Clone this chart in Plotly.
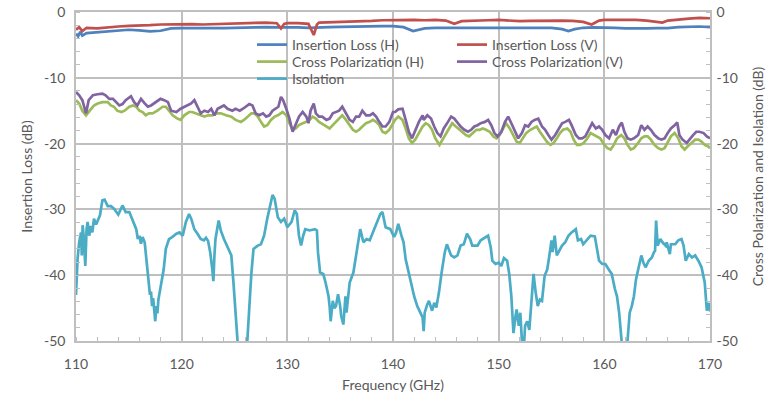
import plotly.graph_objects as go

# ---------------- data ----------------
il_h_freq = [110, 110.2, 110.4, 110.6, 111, 112, 113, 114, 115, 116, 117, 118, 119, 120, 121, 122, 123, 124,
             125, 126, 127, 128, 129, 130, 131, 132, 133, 134, 135, 136, 137, 138, 139, 140, 141, 141.9, 142.5,
             143, 144, 145, 146, 147, 148, 149, 150, 151, 152, 153, 154, 155, 156, 156.6, 157.2, 158, 159, 160,
             161, 162, 163, 164, 165, 166, 167, 168, 169, 170]
il_h = [-3.3, -3.7, -3.0, -3.6, -3.2, -3.1, -3.0, -2.85, -2.7, -2.8, -2.95, -2.85, -2.5, -2.45, -2.45, -2.55,
        -2.5, -2.45, -2.4, -2.35, -2.35, -2.3, -2.35, -2.3, -2.35, -2.4, -2.3, -2.3, -2.25, -2.2, -2.2, -2.2,
        -2.15, -2.15, -2.3, -2.9, -2.7, -2.5, -2.4, -2.4, -2.35, -2.3, -2.35, -2.35, -2.35, -2.35, -2.4, -2.4,
        -2.35, -2.4, -2.6, -2.9, -2.6, -2.4, -2.35, -2.35, -2.4, -2.5, -2.55, -2.5, -2.45, -2.45, -2.3, -2.2,
        -2.2, -2.3]

il_v_freq = [110, 110.3, 110.6, 111, 112, 113, 114, 115, 116, 117, 118, 119, 120, 121, 122, 123, 124, 125, 126,
             127, 128, 129, 129.4, 129.7, 130, 131, 132, 132.5, 132.8, 133, 134, 135, 136, 137, 138, 139, 140,
             141, 142, 143, 144, 145, 145.8, 146.5, 147, 148, 149, 150, 151, 152, 153, 154, 155, 156, 157, 158,
             158.8, 159.5, 160, 161, 162, 163, 164, 165, 165.5, 166, 167, 168, 169, 170]
il_v = [-2.7, -2.3, -2.9, -2.4, -2.5, -2.3, -2.2, -2.1, -2.1, -2.0, -1.9, -1.85, -1.8, -1.85, -1.9, -1.85, -1.8,
        -1.75, -1.7, -1.65, -1.6, -1.7, -2.5, -1.8, -1.7, -1.7, -1.8, -3.5, -1.9, -1.6, -1.55, -1.55, -1.5, -1.5,
        -1.35, -1.25, -1.2, -1.2, -1.2, -1.25, -1.2, -1.3, -1.8, -1.4, -1.35, -1.3, -1.25, -1.2, -1.3, -1.4,
        -1.35, -1.3, -1.35, -1.3, -1.35, -1.5, -1.9, -1.3, -1.2, -1.2, -1.15, -1.2, -1.3, -1.5, -1.6, -1.3, -1.1,
        -1.0, -0.9, -0.95]

xp_h_freq = [110.0, 110.3, 110.6, 110.95, 111.3, 111.7, 112.05, 112.5, 113.0, 113.3, 113.6, 113.9, 114.3, 114.6,
             115.05, 115.4, 115.7, 116.0, 116.3, 116.6, 116.9, 117.25, 117.7, 118.2, 118.5, 118.8, 119.15, 119.6,
             119.9, 120.25, 120.7, 121.0, 121.35, 121.8, 122.15, 122.5, 122.9, 123.25, 123.7, 124.2, 124.7, 125.1,
             125.6, 125.9, 126.25, 126.6, 126.9, 127.2, 127.5, 127.8, 128.1, 128.45, 128.8, 129.1, 129.55, 129.9,
             130.2, 130.5, 130.8, 131.1, 131.45, 131.8, 132.1, 132.4, 132.7, 133.0, 133.5, 134.0, 134.3, 134.6,
             134.9, 135.2, 135.55, 135.9, 136.2, 136.5, 136.8, 137.1, 137.45, 137.8, 138.1, 138.4, 138.7, 139.0,
             139.3, 139.65, 140.0, 140.2, 140.5, 140.9, 141.2, 141.5, 141.8, 142.1, 142.45, 142.8, 143.1, 143.4,
             143.7, 144.0, 144.4, 144.7, 145.0, 145.3, 145.6, 145.95, 146.3, 146.6, 146.9, 147.2, 147.55, 147.9,
             148.2, 148.5, 148.8, 149.15, 149.5, 149.8, 150.1, 150.4, 150.7, 151.05, 151.4, 151.7, 152.0, 152.3,
             152.6, 153.0, 153.3, 153.6, 153.9, 154.2, 154.55, 154.9, 155.2, 155.5, 155.8, 156.1, 156.5, 156.8,
             157.1, 157.4, 157.7, 158.05, 158.4, 158.7, 159.0, 159.3, 159.6, 160.0, 160.3, 160.6, 160.9, 161.2,
             161.6, 161.9, 162.2, 162.5, 162.8, 163.2, 163.5, 163.8, 164.1, 164.4, 164.75, 165.1, 165.4, 165.7,
             166.0, 166.3, 166.65, 167.0, 167.3, 167.6, 167.9, 168.25, 168.6, 168.9, 169.2, 169.5, 169.8, 170.0]
xp_h = [-13.4, -13.9, -15.0, -15.7, -15.0, -14.2, -13.9, -13.7, -13.7, -14.2, -14.4, -15.0, -15.2, -15.0,
        -14.4, -14.2, -14.4, -15.0, -15.2, -15.7, -15.4, -15.4, -15.0, -14.4, -14.4, -15.0, -15.7, -16.2,
        -16.4, -15.7, -15.2, -15.2, -15.4, -15.7, -15.9, -15.7, -15.7, -15.4, -15.4, -15.7, -15.9, -16.4,
        -16.7, -16.4, -15.9, -15.4, -15.4, -15.9, -16.7, -17.4, -17.2, -16.4, -15.9, -15.7, -15.2, -15.7,
        -16.9, -17.9, -17.7, -17.2, -16.9, -16.7, -16.4, -15.9, -16.2, -16.7, -17.2, -17.7, -17.2, -16.7,
        -16.2, -15.7, -16.4, -17.2, -17.9, -18.2, -17.9, -17.4, -16.9, -16.7, -16.4, -16.7, -17.2, -18.2,
        -18.4, -17.9, -16.9, -16.4, -15.9, -16.4, -17.7, -19.2, -19.9, -19.4, -18.4, -17.4, -16.9, -17.2,
        -17.9, -19.2, -20.2, -19.4, -18.4, -17.7, -16.9, -17.4, -17.9, -18.2, -18.7, -18.9, -18.4, -17.9,
        -17.9, -17.7, -17.9, -18.2, -18.9, -19.2, -18.7, -17.7, -16.9, -17.7, -18.7, -19.7, -19.9, -19.2,
        -18.4, -17.9, -17.7, -17.4, -18.2, -18.9, -19.7, -20.2, -19.9, -19.2, -18.4, -17.9, -17.7, -18.2,
        -19.4, -20.2, -20.2, -19.9, -19.2, -18.4, -18.7, -18.9, -19.2, -20.2, -20.7, -20.9, -20.2, -19.2,
        -18.7, -19.2, -20.2, -20.9, -20.7, -19.9, -19.2, -18.9, -18.9, -19.4, -20.2, -20.7, -20.9, -20.7,
        -19.9, -18.9, -18.4, -19.2, -20.4, -20.9, -20.4, -19.9, -19.4, -19.4, -19.7, -20.2, -20.4, -20.7]

xp_v_freq = [110.0, 110.3, 110.6, 110.95, 111.2, 111.6, 112.05, 112.5, 112.8, 113.15, 113.5, 113.8, 114.1, 114.4,
             114.7, 115.2, 115.5, 115.8, 116.15, 116.5, 116.8, 117.1, 117.6, 118.0, 118.35, 118.7, 119.0, 119.5,
             119.9, 120.25, 120.6, 120.9, 121.2, 121.5, 121.8, 122.15, 122.5, 122.8, 123.1, 123.4, 123.7, 124.0,
             124.35, 124.8, 125.1, 125.5, 125.8, 126.1, 126.4, 126.7, 127.0, 127.35, 127.7, 128.0, 128.3, 128.6,
             128.9, 129.15, 129.4, 129.6, 129.9, 130.2, 130.5, 130.8, 131.1, 131.45, 131.8, 132.0, 132.2, 132.5,
             132.7, 133.0, 133.3, 133.7, 134.0, 134.3, 134.6, 134.9, 135.2, 135.55, 135.9, 136.2, 136.5, 136.8,
             137.1, 137.45, 137.8, 138.1, 138.4, 138.7, 139.0, 139.3, 139.65, 140.0, 140.2, 140.5, 140.9, 141.2,
             141.5, 141.8, 142.1, 142.45, 142.8, 142.9, 143.25, 143.6, 143.9, 144.2, 144.5, 144.8, 145.2, 145.5,
             145.8, 146.1, 146.4, 146.75, 147.1, 147.4, 147.7, 148.0, 148.3, 148.7, 149.0, 149.3, 149.6, 149.9,
             150.25, 150.6, 150.9, 151.2, 151.5, 151.85, 152.2, 152.5, 152.8, 153.1, 153.4, 153.75, 154.1, 154.4,
             154.7, 155.0, 155.35, 155.7, 156.0, 156.3, 156.65, 156.9, 157.3, 157.6, 157.9, 158.2, 158.5, 158.85,
             159.2, 159.5, 159.8, 160.1, 160.45, 160.8, 161.1, 161.4, 161.65, 161.9, 162.2, 162.5, 162.8, 163.2,
             163.5, 163.8, 164.1, 164.4, 164.75, 165.1, 165.4, 165.7, 166.0, 166.3, 166.65, 166.9, 167.1, 167.4,
             167.8, 168.1, 168.4, 168.7, 169.0, 169.4, 169.7, 170.0]
xp_v = [-12.15, -12.65, -13.4, -15.4, -13.4, -12.65, -12.5, -12.4, -12.65, -13.2, -13.2, -13.7, -14.2, -14.0,
        -13.4, -12.8, -13.7, -14.2, -13.2, -13.9, -14.4, -14.2, -13.7, -13.2, -13.4, -13.7, -15.0, -15.2,
        -14.7, -14.4, -14.2, -13.9, -13.4, -14.4, -15.4, -15.0, -15.2, -14.7, -15.7, -14.7, -14.4, -14.2,
        -14.7, -15.0, -14.7, -15.0, -14.7, -14.4, -14.0, -14.2, -15.4, -15.7, -15.4, -15.9, -15.7, -15.0,
        -14.7, -14.4, -12.9, -13.4, -14.7, -16.2, -18.2, -16.9, -15.9, -15.2, -15.9, -16.9, -15.0, -13.9,
        -15.4, -15.9, -15.9, -16.4, -16.2, -15.4, -15.2, -15.0, -14.4, -15.4, -16.4, -16.7, -15.9, -15.9,
        -15.0, -15.7, -15.7, -15.4, -15.9, -16.7, -17.4, -17.4, -16.7, -15.2, -15.2, -14.8, -14.7, -16.4,
        -18.2, -19.2, -17.9, -16.7, -15.7, -16.4, -15.7, -16.2, -17.4, -18.4, -18.9, -17.7, -16.7, -15.9,
        -16.2, -16.9, -17.4, -17.9, -18.2, -17.9, -17.4, -17.2, -16.9, -16.7, -16.4, -17.2, -18.4, -18.9,
        -18.2, -16.7, -15.9, -16.9, -17.9, -19.2, -18.4, -17.2, -17.4, -16.7, -16.4, -16.2, -17.4, -17.9,
        -18.7, -19.4, -18.7, -17.7, -16.9, -16.7, -16.4, -17.2, -18.7, -19.2, -19.2, -18.9, -17.9, -16.9,
        -17.7, -17.4, -17.9, -18.7, -19.2, -17.9, -18.7, -17.4, -16.8, -18.2, -19.2, -19.4, -19.2, -18.7,
        -17.2, -17.9, -17.4, -17.9, -18.7, -19.2, -19.4, -19.2, -18.4, -17.7, -17.2, -16.8, -18.7, -19.4,
        -19.9, -19.2, -18.7, -18.2, -18.2, -18.4, -18.9, -19.2]

iso_freq = [110.0, 110.15, 110.3, 110.47, 110.55, 110.63, 110.75, 110.88, 111.0, 111.1, 111.25, 111.4, 111.55,
            111.7, 111.9, 112.05, 112.27, 112.5, 112.7, 113.0, 113.3, 113.6, 114.0, 114.4, 114.7, 115.05, 115.4,
            115.7, 115.85, 116.0, 116.15, 116.3, 116.5, 116.6, 116.8, 116.9, 117.0, 117.1, 117.2, 117.3, 117.4,
            117.5, 117.6, 117.7, 117.8, 117.9, 118.0, 118.3, 118.5, 118.8, 119.1, 119.5, 119.8, 120.1, 120.4,
            120.7, 120.9, 121.2, 121.5, 121.8, 122.1, 122.3, 122.5, 122.7, 122.9, 123.0, 123.1, 123.2, 123.5,
            123.7, 124.0, 124.35, 124.7, 124.9, 125.1, 125.3, 125.6, 125.9, 126.2, 126.4, 126.6, 126.8, 127.2,
            127.5, 127.8, 128.1, 128.4, 128.6, 128.8, 129.1, 129.4, 129.7, 130.0, 130.4, 130.7, 130.9, 131.1,
            131.3, 131.5, 131.7, 132.1, 132.6, 132.8, 132.9, 133.1, 133.4, 133.6, 133.7, 133.9, 134.0, 134.1,
            134.3, 134.45, 134.6, 134.8, 135.0, 135.1, 135.3, 135.5, 135.6, 135.9, 136.25, 136.6, 136.9, 137.2,
            137.5, 137.8, 138.2, 138.5, 138.8, 139.0, 139.3, 139.75, 140.1, 140.3, 140.5, 140.8, 141.0, 141.2,
            141.5, 141.7, 142.0, 142.3, 142.6, 142.8, 142.9, 143.0, 143.25, 143.4, 143.7, 143.9, 144.1, 144.35,
            144.6, 144.9, 145.1, 145.5, 145.8, 146.1, 146.4, 146.7, 147.0, 147.3, 147.5, 148.0, 148.3, 148.8,
            149.0, 149.25, 149.4, 149.7, 150.0, 150.25, 150.5, 150.8, 151.0, 151.2, 151.4, 151.6, 151.7, 151.9,
            152.05, 152.2, 152.4, 152.5, 152.7, 152.9, 153.1, 153.3, 153.5, 153.7, 153.9, 154.1, 154.35, 154.6,
            154.8, 155.0, 155.1, 155.3, 155.5, 155.7, 156.0, 156.3, 156.6, 156.9, 157.3, 157.5, 157.8, 158.0,
            158.4, 158.7, 159.1, 159.5, 159.8, 160.1, 160.4, 160.7, 161.0, 161.2, 161.4, 161.6, 161.8, 162.0,
            162.2, 162.4, 162.6, 162.8, 163.0, 163.25, 163.5, 163.7, 163.9, 164.2, 164.5, 164.7, 164.8, 164.9,
            165.05, 165.3, 165.5, 165.8, 165.9, 166.2, 166.3, 166.7, 167.0, 167.3, 167.5, 167.7, 168.0, 168.3,
            168.6, 168.9, 169.2, 169.5, 169.7, 169.9, 170.0]
iso = [-43.0, -37.5, -35.0, -33.5, -37.0, -32.4, -34.5, -38.6, -33.0, -31.9, -34.0, -32.5, -33.5,
       -31.4, -32.3, -31.7, -30.9, -28.6, -28.5, -29.5, -29.5, -29.9, -30.8, -29.4, -30.4, -30.4, -31.7,
       -33.0, -34.5, -34.0, -35.2, -34.2, -35.0, -36.5, -39.1, -41.6, -43.0, -42.5, -44.7, -43.5, -45.5,
       -47.0, -44.7, -45.8, -43.7, -42.8, -41.6, -39.1, -36.0, -34.5, -34.2, -33.7, -33.5, -34.0, -31.9,
       -30.7, -31.4, -33.0, -33.7, -34.5, -34.7, -34.3, -34.8, -36.5, -39.1, -40.9, -37.0, -34.5, -31.7,
       -33.2, -34.5, -35.8, -37.0, -41.1, -45.7, -50.3, -53.0, -55.0, -50.3, -44.2, -39.6, -36.0, -35.5,
       -35.3, -34.0, -31.4, -29.1, -27.8, -28.4, -31.2, -31.9, -31.4, -32.7, -31.9, -30.15, -30.7, -34.0,
       -35.5, -34.0, -33.0, -33.2, -33.0, -33.2, -36.5, -39.6, -39.8, -41.0, -41.6, -43.2, -44.7, -47.0,
       -43.9, -45.0, -44.7, -42.9, -44.7, -46.2, -47.5, -43.2, -45.7, -41.1, -39.6, -36.0, -33.0, -35.0,
       -34.5, -34.7, -33.0, -31.7, -30.7, -30.4, -32.7, -33.0, -34.2, -33.5, -32.2, -34.0, -35.0, -37.6,
       -39.6, -41.1, -43.2, -44.7, -45.7, -46.4, -48.5, -45.7, -44.4, -43.9, -45.4, -44.2, -44.9, -42.6,
       -39.6, -36.5, -35.3, -37.0, -37.3, -37.0, -35.5, -35.3, -33.7, -34.5, -35.5, -35.5, -34.7, -34.2,
       -34.0, -35.8, -37.8, -38.3, -38.1, -38.6, -37.4, -37.8, -39.8, -43.2, -48.8, -46.2, -45.2, -47.7,
       -45.7, -50.0, -50.5, -47.7, -47.0, -48.3, -43.2, -39.8, -42.6, -44.7, -43.7, -43.9, -40.1, -39.1,
       -37.0, -34.7, -36.5, -34.0, -37.0, -36.3, -35.5, -35.0, -34.0, -33.5, -33.0, -34.7, -34.5, -35.3,
       -34.5, -34.0, -34.1, -37.8, -38.3, -38.3, -39.1, -39.8, -42.1, -43.2, -45.7, -50.0, -53.0, -54.0,
       -50.3, -45.7, -44.7, -43.2, -40.6, -38.6, -37.0, -38.1, -38.8, -37.8, -37.3, -36.5, -36.3, -31.7,
       -35.5, -34.5, -35.0, -35.5, -35.0, -36.8, -35.3, -35.3, -34.7, -34.5, -35.5, -37.8, -36.8, -37.3,
       -37.0, -37.8, -38.8, -41.1, -45.4, -44.2, -45.5]

x_ticks = [110, 120, 130, 140, 150, 160, 170]
y_ticks = [0, -10, -20, -30, -40, -50]
y_tick_text = ["0", "-10", "-20", "-30", "-40", "-50"]

# ---------------- figure ----------------
W, H = 777, 394
PL, PT, PW, PH = 76, 12, 634, 329   # plot box on screen
ML, MT = PL, PT
MR = W - ML - PW
MB = H - MT - PH

FONT = "Lato"
TXT = "#595959"
GRID = "#bfbfbf"

def px_x(p):
    return (p - PL) / PW

def px_y(p):
    return 1 - (p - PT) / PH

series = [
    ("Insertion Loss (H)", il_h_freq, il_h, "#4F81BD", "y", 257, 45),
    ("Insertion Loss (V)", il_v_freq, il_v, "#C0504D", "y", 457, 45),
    ("Cross Polarization (H)", xp_h_freq, xp_h, "#9BBB59", "y2", 257, 62),
    ("Cross Polarization (V)", xp_v_freq, xp_v, "#8064A2", "y2", 457, 62),
    ("Isolation", iso_freq, iso, "#4BACC6", "y2", 257, 79),
]
draw_order = [4, 2, 3, 0, 1]

fig = go.Figure()
legends = {}
for k in draw_order:
    name, fx, fy, col, ax, lx, ly = series[k]
    lg = "legend" if k == 0 else f"legend{k+1}"
    fig.add_trace(go.Scatter(x=fx, y=fy, name=name, mode="lines", yaxis=ax, legend=lg,
                             line=dict(color=col, width=2.7), hoverinfo="skip"))
    legends[lg] = dict(x=px_x(lx - 5), xanchor="left", y=px_y(ly), yanchor="middle",
                       bgcolor="rgba(0,0,0,0)", borderwidth=0,
                       font=dict(family=FONT, size=14, color=TXT))

axis_common = dict(range=[-50, 0], tickvals=y_ticks, ticktext=y_tick_text, showgrid=True,
                   gridcolor=GRID, gridwidth=1.5, automargin=False,
                   zeroline=False, showline=True, linecolor=GRID, linewidth=1.5,
                   ticks="", tickfont=dict(family=FONT, size=14, color=TXT),
                   minor=dict(dtick=2, ticks="inside", ticklen=4, tickcolor=GRID, tickwidth=1, showgrid=False))

fig.update_layout(
    width=W, height=H,
    margin=dict(l=ML, r=MR, t=MT, b=MB, pad=0, autoexpand=False),
    paper_bgcolor="white", plot_bgcolor="white",
    showlegend=True,
    font=dict(family=FONT, size=14, color=TXT),
    xaxis=dict(range=[110, 170], tickvals=x_ticks, showgrid=True, gridcolor=GRID, gridwidth=1.5,
               zeroline=False, showline=True, linecolor=GRID, linewidth=1.5, mirror=True, automargin=False,
               ticks="", tickfont=dict(family=FONT, size=14, color=TXT), ticklabelstandoff=9,
               minor=dict(dtick=2, ticks="inside", ticklen=4, tickcolor=GRID, tickwidth=1, showgrid=False),
               title=dict(text="Frequency (GHz)", font=dict(family=FONT, size=14, color=TXT), standoff=10)),
    yaxis=dict(**axis_common, side="left", ticklabelstandoff=6,
               title=dict(text="Insertion Loss (dB)", font=dict(family=FONT, size=14, color=TXT), standoff=8)),
    yaxis2=dict(**axis_common, side="right", overlaying="y", ticklabelstandoff=2,
                title=dict(text="Cross Polarization and Isolation (dB)",
                           font=dict(family=FONT, size=14, color=TXT), standoff=16)),
    **legends,
)

fig.write_html("out.html", config={"displayModeBar": False},
               post_script="document.body.style.margin='0px';")
